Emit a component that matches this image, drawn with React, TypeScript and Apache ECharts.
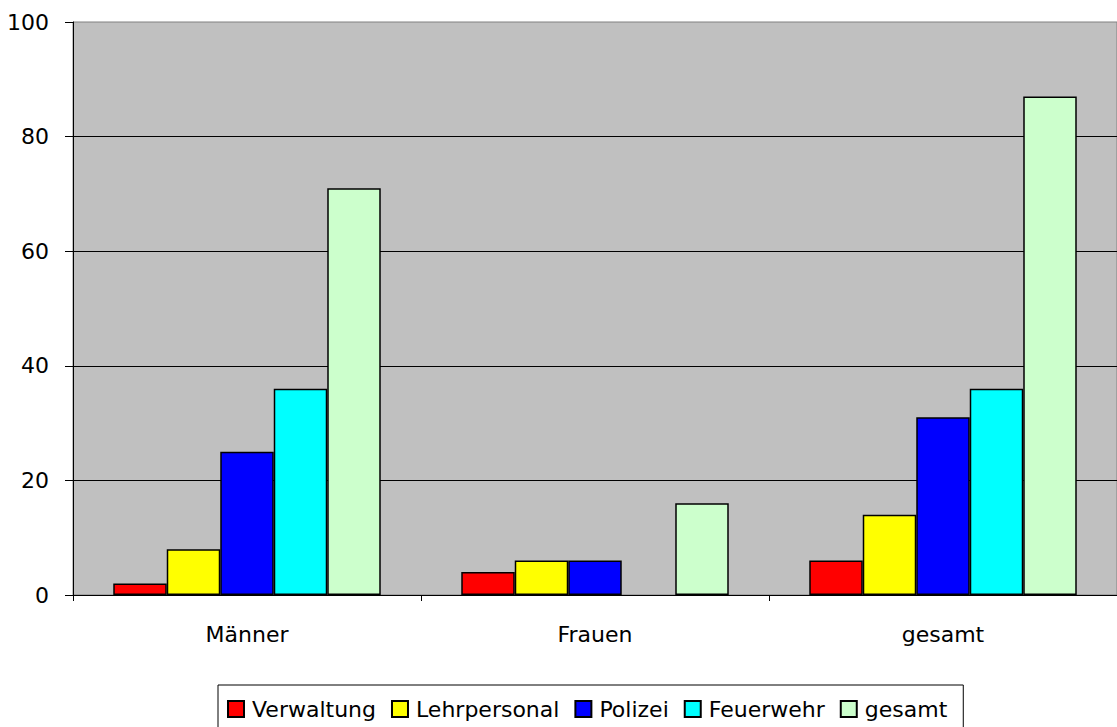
import React, { useEffect, useRef } from "react";
import * as echarts from "echarts";

const categories = ["Männer", "Frauen", "gesamt"];
const seriesNames = ["Verwaltung", "Lehrpersonal", "Polizei", "Feuerwehr", "gesamt"];
const verwaltung = [2, 4, 6];
const lehrpersonal = [8, 6, 14];
const polizei = [25, 6, 31];
const feuerwehr = [36, 0, 36];
const gesamt = [71, 16, 87];
const seriesColors = ["#FF0000", "#FFFF00", "#0000FF", "#00FFFF", "#CCFFCC"];

const FONT = "'DejaVu Sans', sans-serif";

export default function App() {
  const ref = useRef<HTMLDivElement>(null);
  useEffect(() => {
    if (!ref.current) return;
    const chart = echarts.init(ref.current, undefined, { renderer: "svg" });
    const values = [verwaltung, lehrpersonal, polizei, feuerwehr, gesamt];
    chart.setOption({
      animation: false,
      backgroundColor: "#FFFFFF",
      textStyle: { fontFamily: FONT },
      grid: {
        left: 73,
        right: 0,
        top: 22,
        bottom: 132,
        show: true,
        backgroundColor: "#C0C0C0",
        borderColor: "#808080",
        borderWidth: 1,
      },
      legend: {
        left: 218,
        top: 685,
        orient: "horizontal",
        data: seriesNames,
        icon: "rect",
        itemWidth: 16,
        itemHeight: 16,
        itemGap: 15,
        padding: [13, 16, 13, 9],
        borderColor: "#000",
        borderWidth: 1,
        backgroundColor: "#FFFFFF",
        textStyle: { fontFamily: FONT, fontSize: 22, color: "#000", padding: [0, 0, 0, 3] },
      },
      xAxis: {
        type: "category",
        data: categories,
        axisLine: { show: true, lineStyle: { color: "#000", width: 1 } },
        axisTick: { show: true, length: 6, lineStyle: { color: "#000" } },
        axisLabel: { margin: 28, fontSize: 22, color: "#000", fontFamily: FONT },
        splitLine: { show: false },
      },
      yAxis: {
        type: "value",
        min: 0,
        max: 100,
        interval: 20,
        axisLine: { show: true, lineStyle: { color: "#000", width: 1 } },
        axisTick: { show: true, length: 8, lineStyle: { color: "#000" } },
        axisLabel: { margin: 24, fontSize: 22, color: "#000", fontFamily: FONT },
        splitLine: { show: true, showMaxLine: false, lineStyle: { color: "#000", width: 1 } },
      },
      series: seriesNames.map((name, i) => ({
        name,
        type: "bar",
        barWidth: 53.5,
        barGap: "0%",
        data: values[i].map((v) => (v === 0 ? "-" : v)),
        itemStyle: { color: seriesColors[i], borderColor: "#000", borderWidth: 1.5 },
      })),
    });
    return () => chart.dispose();
  }, []);
  return (
    <div
      ref={ref}
      style={{ position: "absolute", left: 0, top: 0, width: 1117, height: 727 }}
    />
  );
}
